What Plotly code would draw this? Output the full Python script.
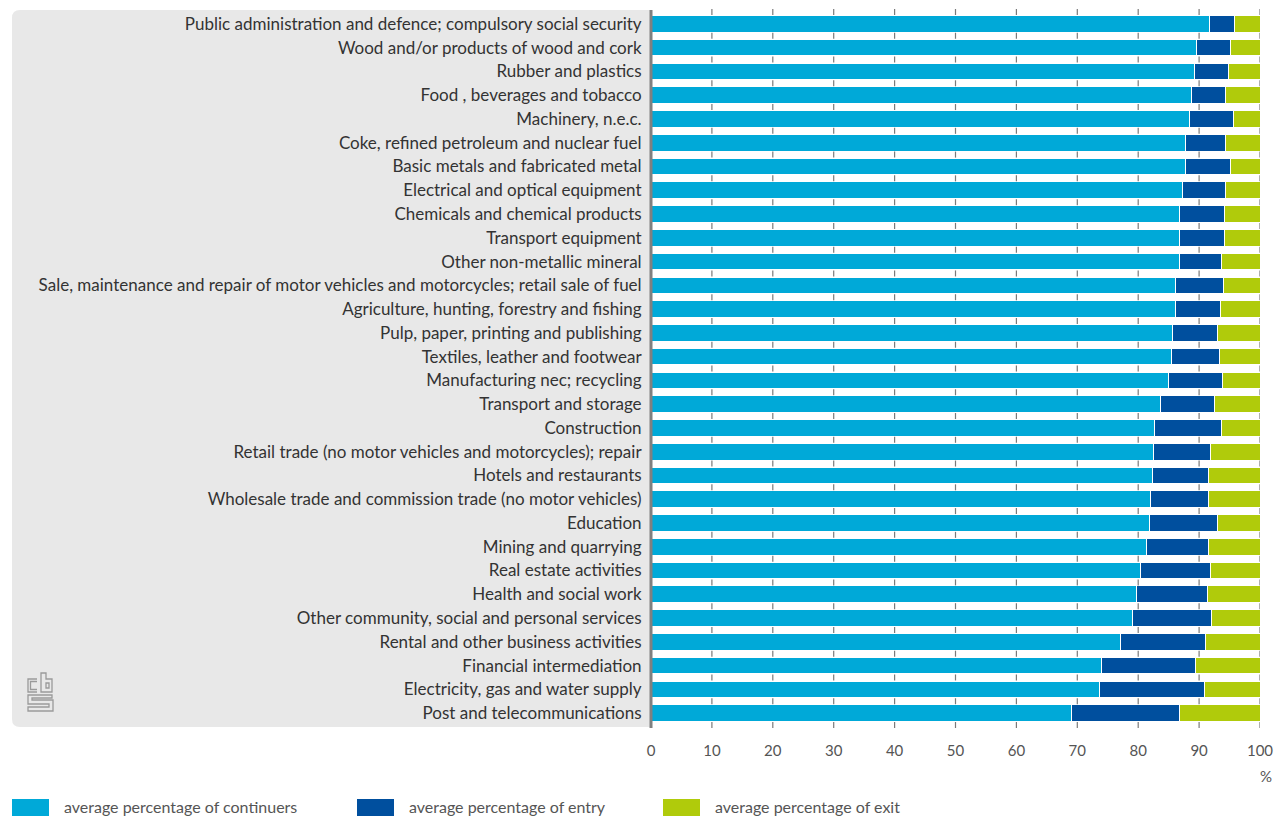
import plotly.graph_objects as go

# Industries, top to bottom
industries = [
    "Public administration and defence; compulsory social security",
    "Wood and/or products of wood and cork",
    "Rubber and plastics",
    "Food , beverages and tobacco",
    "Machinery, n.e.c.",
    "Coke, refined petroleum and nuclear fuel",
    "Basic metals and fabricated metal",
    "Electrical and optical equipment",
    "Chemicals and chemical products",
    "Transport equipment",
    "Other non-metallic mineral",
    "Sale, maintenance and repair of motor vehicles and motorcycles; retail sale of fuel",
    "Agriculture, hunting, forestry and fishing",
    "Pulp, paper, printing and publishing",
    "Textiles, leather and footwear",
    "Manufacturing nec; recycling",
    "Transport and storage",
    "Construction",
    "Retail trade (no motor vehicles and motorcycles); repair",
    "Hotels and restaurants",
    "Wholesale trade and commission trade (no motor vehicles)",
    "Education",
    "Mining and quarrying",
    "Real estate activities",
    "Health and social work",
    "Other community, social and personal services",
    "Rental and other business activities",
    "Financial intermediation",
    "Electricity, gas and water supply",
    "Post and telecommunications",
]

continuers = [91.7, 89.5, 89.3, 88.7, 88.5, 87.7, 87.7, 87.2, 86.8, 86.7,
              86.7, 86.2, 86.1, 85.6, 85.5, 84.9, 83.6, 82.7, 82.5, 82.4,
              82.0, 81.9, 81.3, 80.3, 79.7, 79.1, 77.1, 73.9, 73.6, 69.1]
entry = [4.1, 5.6, 5.6, 5.6, 7.1, 6.6, 7.4, 7.2, 7.3, 7.4,
         7.0, 7.8, 7.4, 7.5, 7.8, 8.9, 8.9, 11.0, 9.4, 9.2,
         9.5, 11.2, 10.3, 11.5, 11.6, 12.9, 14.0, 15.5, 17.3, 17.6]
exit_ = [round(100 - c - e, 1) for c, e in zip(continuers, entry)]

series_names = ["average percentage of continuers",
                "average percentage of entry",
                "average percentage of exit"]
series_values = [continuers, entry, exit_]
colors = ["#00A9D8", "#004F9E", "#B0CB0B"]

x_ticks = list(range(0, 101, 10))

W, H = 1277, 816
M_L, M_R, M_T, M_B = 651, 17, 12, 91
PW, PH = W - M_L - M_R, H - M_T - M_B


def px(x):
    return (x - M_L) / PW


def py(y):
    return (H - M_B - y) / PH


FONT = "Lato"
ypos = list(range(len(industries)))

fig = go.Figure()
for name, vals, col in zip(series_names, series_values, colors):
    fig.add_trace(go.Bar(
        y=ypos, x=vals, name=name, orientation="h",
        marker=dict(color=col, line=dict(color="white", width=1)),
        showlegend=False,
    ))

shapes = []

# short tick dashes in the gaps between rows
n_rows = len(industries)
for b in range(n_rows + 1):
    yc = 1 - b / n_rows
    for t in x_ticks[1:]:
        shapes.append(dict(type="line", xref="x", yref="paper", layer="above",
                           x0=t, x1=t, y0=yc - 3 / PH, y1=yc + 3 / PH,
                           line=dict(color="#7a7a7a", width=1.2)))

# grey panel behind category labels, with rounded left corners
x0, x1 = px(12), px(651)
y0, y1 = py(727), py(10)
rx, ry = 8 / PW, 8 / PH
path = (f"M {x1},{y1} L {x0 + rx},{y1} Q {x0},{y1} {x0},{y1 - ry} "
        f"L {x0},{y0 + ry} Q {x0},{y0} {x0 + rx},{y0} L {x1},{y0} Z")
shapes.append(dict(type="path", xref="paper", yref="paper", path=path,
                   fillcolor="#E8E8E8", line=dict(width=0), layer="below"))
# vertical axis line
shapes.append(dict(type="line", xref="paper", yref="paper",
                   x0=px(651), x1=px(651), y0=py(728), y1=py(10),
                   line=dict(color="#808080", width=3)))

# logo outline
logo_col = "#9A9A9A"
logo_paths = [
    # c
    "M 37,679 L 28,679 L 28,692 L 37,692",
    "M 37,681.5 L 30.5,681.5 L 30.5,689.5 L 37,689.5",
    # b
    "M 41,673 L 41,692 L 52,692 L 52,679 L 46,679 L 46,673 Z",
    "M 46,683 L 49,683 L 49,688 L 46,688 Z",
    # s
    "M 52,695 L 28,695 L 28,704 L 49,704 L 49,707 L 28,707 L 28,711 L 53,711 L 53,700 L 32,700 L 32,698 L 52,698 Z",
]
for p in logo_paths:
    out = []
    for tok in p.split():
        if "," in tok:
            a, b = tok.split(",")
            out.append(f"{px(float(a))},{py(float(b))}")
        else:
            out.append(tok)
    shapes.append(dict(type="path", xref="paper", yref="paper", path=" ".join(out),
                       line=dict(color=logo_col, width=1.3)))

annotations = [dict(text="%", xref="paper", yref="paper", x=px(1274), y=py(776),
                    xanchor="right", yanchor="middle", showarrow=False,
                    font=dict(family=FONT, size=15, color="#555555"))]

# legend swatches and labels
leg_x = [12, 357, 663]
for lx, name, col in zip(leg_x, series_names, colors):
    shapes.append(dict(type="rect", xref="paper", yref="paper",
                       x0=px(lx), x1=px(lx + 37), y0=py(816), y1=py(799),
                       fillcolor=col, line=dict(width=0)))
    annotations.append(dict(text=name, xref="paper", yref="paper",
                            x=px(lx + 50), y=py(806), xanchor="left", yanchor="middle",
                            showarrow=False,
                            font=dict(family=FONT, size=16, color="#555555")))

fig.update_layout(
    width=W, height=H,
    margin=dict(l=M_L, r=M_R, t=M_T, b=M_B, autoexpand=False),
    paper_bgcolor="white", plot_bgcolor="white",
    barmode="stack", bargap=0.3,
    font=dict(family=FONT, size=16, color="#333333"),
    shapes=shapes, annotations=annotations,
    xaxis=dict(range=[0, 100], tickvals=x_ticks, ticktext=[str(t) for t in x_ticks],
               showgrid=False, zeroline=False, showline=False, automargin=False,
               ticks="outside", ticklen=12, tickcolor="rgba(0,0,0,0)",
               tickfont=dict(family=FONT, size=15, color="#555555"), fixedrange=True),
    yaxis=dict(range=[len(industries) - 0.5, -0.5], tickvals=ypos, ticktext=industries,
               showgrid=False, zeroline=False, showline=False, automargin=False,
               ticks="outside", ticklen=5, tickcolor="rgba(0,0,0,0)",
               tickfont=dict(family=FONT, size=17, color="#333333"), fixedrange=True),
)

fig.write_html("out.html")
